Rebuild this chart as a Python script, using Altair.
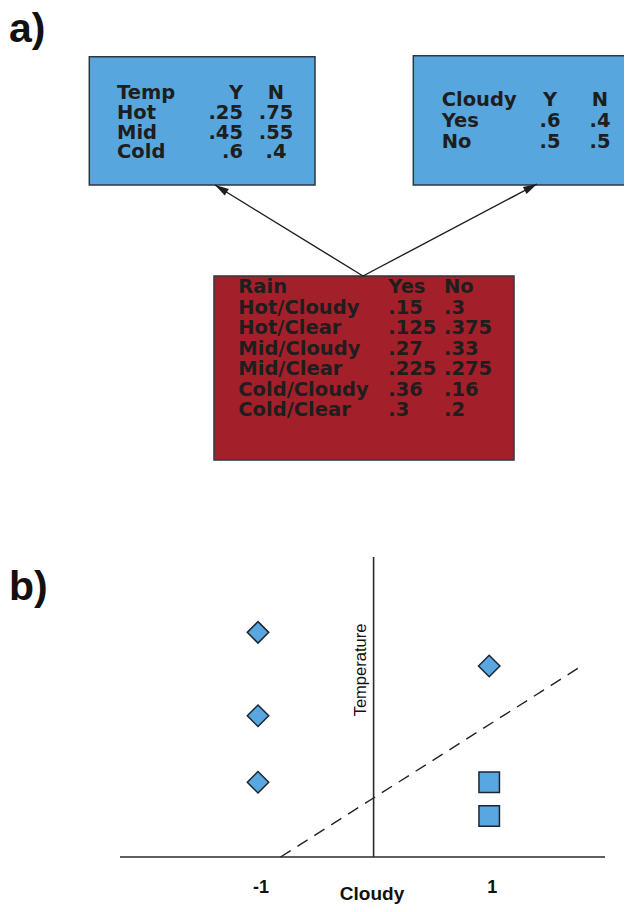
import math
import altair as alt
import pandas as pd

# ---------------- data ----------------
temp_header = ["Temp", "Y", "N"]
temp_levels = ["Hot", "Mid", "Cold"]
temp_yes = [".25", ".45", ".6"]
temp_no = [".75", ".55", ".4"]

cloudy_header = ["Cloudy", "Y", "N"]
cloudy_levels = ["Yes", "No"]
cloudy_yes = [".6", ".5"]
cloudy_no = [".4", ".5"]

rain_header = ["Rain", "Yes", "No"]
rain_conditions = ["Hot/Cloudy", "Hot/Clear", "Mid/Cloudy", "Mid/Clear", "Cold/Cloudy", "Cold/Clear"]
rain_yes = [".15", ".125", ".27", ".225", ".36", ".3"]
rain_no = [".3", ".375", ".33", ".275", ".16", ".2"]

point_cloudy = [-1, -1, -1, 1, 1, 1]
point_temperature = [7.27, 4.57, 2.42, 6.18, 2.42, 1.33]
point_class = ["diamond", "diamond", "diamond", "diamond", "square", "square"]

boundary_cloudy = [-0.805, 1.811]
boundary_temperature = [0.0, 6.21]

cloudy_ticks = [-1, 1]
cloudy_tick_labels = ["-1", "1"]

# ---------------- styles / layout ----------------
BLUE = "#57a6de"
RED = "#a3202a"
INK = "#1e1e1e"
EDGE = "#2f3640"
TABLE_FONT = "DejaVu Sans"
LABEL_FONT = "Liberation Sans"

M = 8            # page margin
W = 616          # chart width
TOP_H = 540      # height of diagram panel
BOT_TOP = M + TOP_H
BOT_BOTTOM = 904
BOT_H = BOT_BOTTOM - BOT_TOP

# diagram layout (page pixel coordinates)
BOXES = [
    dict(x=89.3, x2=315, y=56.7, y2=185, fill=BLUE),
    dict(x=413.3, x2=660, y=55.7, y2=185, fill=BLUE),
    dict(x=214, x2=514, y=276, y2=460, fill=RED),
]
TABLE_LAYOUT = [
    dict(header=temp_header, rows=list(zip(temp_levels, temp_yes, temp_no)),
         label_x=117, a_x=243, a_align="right", b_x=276, b_align="center", base=99.3, step=19.7),
    dict(header=cloudy_header, rows=list(zip(cloudy_levels, cloudy_yes, cloudy_no)),
         label_x=441.7, a_x=550, a_align="center", b_x=600, b_align="center", base=105.7, step=21.3),
    dict(header=rain_header, rows=list(zip(rain_conditions, rain_yes, rain_no)),
         label_x=238.3, a_x=388.3, a_align="left", b_x=444, b_align="left", base=293.3, step=20.5),
]
ARROW_START = (363, 276)
ARROW_TIPS = [(215, 185), (537, 184)]
HEAD_PATH = "M0,0L0.45,1.6L-0.45,1.6Z"

# scatter layout: page pixel of origin and pixels per unit
X0, UX = 373.6, 115.6
Y0, UY = 857.0, 30.9


def sx(px):
    return (px - X0) / UX


def sy(py):
    return (Y0 - py) / UY


# ---------------- top panel: diagram ----------------
XT = alt.Scale(domain=[M, M + W])
YT = alt.Scale(domain=[M, M + TOP_H], reverse=True)

rect_df = pd.DataFrame(BOXES)
rects = alt.Chart(rect_df).mark_rect(stroke=EDGE, strokeWidth=1.5, clip=True).encode(
    x=alt.X("x:Q", scale=XT, axis=None),
    x2="x2:Q",
    y=alt.Y("y:Q", scale=YT, axis=None),
    y2="y2:Q",
    fill=alt.Fill("fill:N", scale=None),
)

text_rows = []
for t in TABLE_LAYOUT:
    all_rows = [tuple(t["header"])] + t["rows"]
    for i, (lab, a, b) in enumerate(all_rows):
        yb = t["base"] + i * t["step"]
        text_rows.append(dict(x=t["label_x"], y=yb, text=lab, align="left"))
        text_rows.append(dict(x=t["a_x"], y=yb, text=a, align=t["a_align"]))
        text_rows.append(dict(x=t["b_x"], y=yb, text=b, align=t["b_align"]))
text_df = pd.DataFrame(text_rows)

text_layers = []
for al in ["left", "right", "center"]:
    sub = text_df[text_df["align"] == al]
    text_layers.append(
        alt.Chart(sub).mark_text(align=al, baseline="alphabetic", font=TABLE_FONT,
                                 fontWeight="bold", fontSize=19.5, color=INK).encode(
            x=alt.X("x:Q", scale=XT, axis=None),
            y=alt.Y("y:Q", scale=YT, axis=None),
            text="text:N",
        )
    )

arrow_rows = []
for tx, ty in ARROW_TIPS:
    dx, dy = tx - ARROW_START[0], ty - ARROW_START[1]
    ang = math.degrees(math.atan2(dx, -dy)) % 360
    arrow_rows.append(dict(x=ARROW_START[0], y=ARROW_START[1], x2=tx, y2=ty, angle=ang))
arrow_df = pd.DataFrame(arrow_rows)

arrow_lines = alt.Chart(arrow_df).mark_rule(color=INK, strokeWidth=1.4).encode(
    x=alt.X("x:Q", scale=XT, axis=None),
    y=alt.Y("y:Q", scale=YT, axis=None),
    x2="x2:Q",
    y2="y2:Q",
)
arrow_heads = alt.Chart(arrow_df).mark_point(shape=HEAD_PATH, filled=True, color=INK,
                                             size=300, opacity=1).encode(
    x=alt.X("x2:Q", scale=XT, axis=None),
    y=alt.Y("y2:Q", scale=YT, axis=None),
    angle=alt.Angle("angle:Q", scale=None),
)

a_label = alt.Chart(pd.DataFrame([dict(x=9, y=42, text="a)")])).mark_text(
    align="left", baseline="alphabetic", font=LABEL_FONT, fontWeight="bold",
    fontSize=41, color="#111111").encode(
    x=alt.X("x:Q", scale=XT, axis=None),
    y=alt.Y("y:Q", scale=YT, axis=None),
    text="text:N",
)

top = alt.layer(rects, arrow_lines, arrow_heads, *text_layers, a_label).properties(
    width=W, height=TOP_H)

# ---------------- bottom panel: scatter ----------------
XB = alt.Scale(domain=[sx(M), sx(M + W)])
YB = alt.Scale(domain=[sy(BOT_BOTTOM), sy(BOT_TOP)])

pts_df = pd.DataFrame(dict(cloudy=point_cloudy, temperature=point_temperature, cls=point_class))
points = alt.Chart(pts_df).mark_point(filled=True, fill="#58a7e0", stroke="#1d2630",
                                      strokeWidth=1.5, opacity=1).encode(
    x=alt.X("cloudy:Q", scale=XB, axis=None),
    y=alt.Y("temperature:Q", scale=YB, axis=None),
    shape=alt.Shape("cls:N", scale=alt.Scale(domain=["diamond", "square"], range=["diamond", "square"]), legend=None),
    size=alt.Size("cls:N", scale=alt.Scale(domain=["diamond", "square"], range=[460, 420]), legend=None),
)

axes_df = pd.DataFrame([
    dict(x=sx(120), x2=sx(605), y=0.0, y2=0.0),
    dict(x=0.0, x2=0.0, y=0.0, y2=sy(557)),
])
axes_lines = alt.Chart(axes_df).mark_rule(color="#2a2a2a", strokeWidth=1.6).encode(
    x=alt.X("x:Q", scale=XB, axis=None),
    x2="x2:Q",
    y=alt.Y("y:Q", scale=YB, axis=None),
    y2="y2:Q",
)

bnd_df = pd.DataFrame(dict(x=[boundary_cloudy[0]], x2=[boundary_cloudy[1]],
                           y=[boundary_temperature[0]], y2=[boundary_temperature[1]]))
boundary = alt.Chart(bnd_df).mark_rule(color="#222222", strokeWidth=1.4, strokeDash=[12, 8]).encode(
    x=alt.X("x:Q", scale=XB, axis=None),
    x2="x2:Q",
    y=alt.Y("y:Q", scale=YB, axis=None),
    y2="y2:Q",
)

tick_df = pd.DataFrame(dict(x=cloudy_ticks, text=cloudy_tick_labels, y=[sy(892.9)] * len(cloudy_ticks)))
tick_labels = alt.Chart(tick_df).mark_text(align="center", baseline="alphabetic", font=LABEL_FONT,
                                           fontWeight="bold", fontSize=18, color="#111111", dx=3).encode(
    x=alt.X("x:Q", scale=XB, axis=None),
    y=alt.Y("y:Q", scale=YB, axis=None),
    text="text:N",
)

x_title = alt.Chart(pd.DataFrame([dict(x=sx(372), y=sy(900), text="Cloudy")])).mark_text(
    align="center", baseline="alphabetic", font=LABEL_FONT, fontWeight="bold", fontSize=19,
    color="#111111").encode(
    x=alt.X("x:Q", scale=XB, axis=None),
    y=alt.Y("y:Q", scale=YB, axis=None),
    text="text:N",
)

y_title = alt.Chart(pd.DataFrame([dict(x=sx(365.5), y=sy(670), text="Temperature")])).mark_text(
    align="center", baseline="alphabetic", font=LABEL_FONT, fontSize=16.5, angle=270,
    color="#111111").encode(
    x=alt.X("x:Q", scale=XB, axis=None),
    y=alt.Y("y:Q", scale=YB, axis=None),
    text="text:N",
)

b_label = alt.Chart(pd.DataFrame([dict(x=sx(9), y=sy(600), text="b)")])).mark_text(
    align="left", baseline="alphabetic", font=LABEL_FONT, fontWeight="bold", fontSize=41,
    color="#111111").encode(
    x=alt.X("x:Q", scale=XB, axis=None),
    y=alt.Y("y:Q", scale=YB, axis=None),
    text="text:N",
)

bottom = alt.layer(axes_lines, boundary, points, tick_labels, x_title, y_title, b_label).properties(
    width=W, height=BOT_H)

chart = alt.vconcat(top, bottom, spacing=0).properties(padding=0, background="white").configure_view(
    stroke=None)

chart.save("out.html", embed_options={"renderer": "svg", "actions": False})
